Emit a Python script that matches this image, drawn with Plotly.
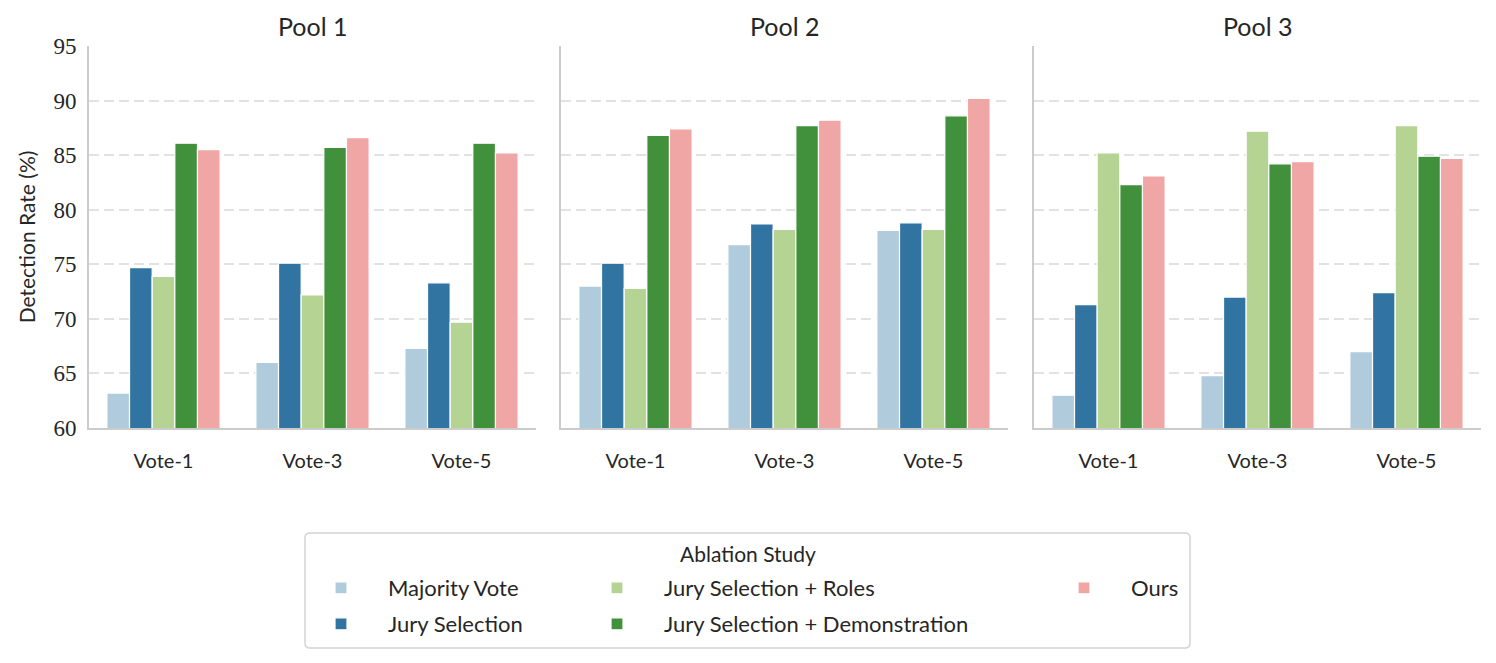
import plotly.graph_objects as go

# page body has an 8px margin; figure is sized/positioned to compensate
OFF = 8
FW, FH = 1488, 655


def px(x):
    return (x - OFF) / FW


def py(y):
    return 1 - (y - OFF) / FH


pools = ["Pool 1", "Pool 2", "Pool 3"]
votes = ["Vote-1", "Vote-3", "Vote-5"]
methods = ["Majority Vote", "Jury Selection", "Jury Selection + Roles",
           "Jury Selection + Demonstration", "Ours"]
colors = ["#afcbdc", "#3274a1", "#b5d493", "#41913c", "#f0a6a5"]

# values per series: [pool][vote]
majority_vote = [[63.2, 66.0, 67.3], [73.0, 76.8, 78.1], [63.0, 64.8, 67.0]]
jury_selection = [[74.7, 75.1, 73.3], [75.1, 78.7, 78.8], [71.3, 72.0, 72.4]]
jury_roles = [[73.9, 72.2, 69.7], [72.8, 78.2, 78.2], [85.2, 87.2, 87.7]]
jury_demo = [[86.1, 85.7, 86.1], [86.8, 87.7, 88.6], [82.3, 84.2, 84.9]]
ours = [[85.5, 86.6, 85.2], [87.4, 88.2, 90.2], [83.1, 84.4, 84.7]]
series = [majority_vote, jury_selection, jury_roles, jury_demo, ours]

y_ticks = [60, 65, 70, 75, 80, 85, 90, 95]

SANS = "Lato"
SERIF = "Liberation Serif"
TXT = "#262626"

fig = go.Figure()

x_domains = [(px(89), px(536)), (px(561), px(1008)), (px(1034), px(1481))]
y_domain = (py(428), py(46))

# legend placement: swatch centre columns / row centres (pixels)
ITEMW = 84
leg_cx = [341, 341, 617, 617, 1084]
leg_cy = [588, 624, 588, 624, 588]
legend_keys = ["legend", "legend2", "legend3", "legend4", "legend5"]

for p in range(3):
    xa = "x" if p == 0 else f"x{p + 1}"
    ya = "y" if p == 0 else f"y{p + 1}"
    for m in range(5):
        fig.add_trace(go.Bar(
            x=votes, y=series[m][p], name=methods[m],
            marker=dict(color=colors[m], line=dict(color="white", width=1.2)),
            xaxis=xa, yaxis=ya, showlegend=(p == 0),
            legend=legend_keys[m], offsetgroup=str(m),
            hovertemplate=methods[m] + ": %{y}<extra>" + pools[p] + "</extra>",
        ))

layout = dict(
    width=FW, height=FH,
    margin=dict(l=0, r=0, t=0, b=0),
    plot_bgcolor="white", paper_bgcolor="white",
    barmode="group", bargap=0.24, bargroupgap=0.0,
    font=dict(family=SANS, color=TXT),
)

for p in range(3):
    sx = "" if p == 0 else str(p + 1)
    layout["xaxis" + sx] = dict(
        domain=list(x_domains[p]), anchor="y" + sx,
        range=[-0.5, 2.5], showline=True, linecolor="#cccccc", linewidth=2,
        showgrid=False, ticks="", tickfont=dict(family=SANS, size=20, color=TXT),
        ticklabelstandoff=14, automargin=False, fixedrange=True,
    )
    layout["yaxis" + sx] = dict(
        domain=list(y_domain), anchor="x" + sx,
        range=[60, 95], tickvals=y_ticks, showticklabels=(p == 0),
        showline=True, linecolor="#cccccc", linewidth=2,
        showgrid=True, gridcolor="#e2e2e2", griddash="10px,5px", gridwidth=1.5,
        zeroline=False, ticks="", tickfont=dict(family=SERIF, size=23, color=TXT),
        ticklabelstandoff=6, automargin=False, fixedrange=True,
        title=dict(text="Detection Rate (%)" if p == 0 else "",
                   font=dict(family=SANS, size=21, color=TXT), standoff=12),
    )

for i, key in enumerate(legend_keys):
    layout[key] = dict(
        x=px(leg_cx[i] - ITEMW / 2 - 5), y=py(leg_cy[i]),
        xanchor="left", yanchor="middle",
        bgcolor="rgba(0,0,0,0)", borderwidth=0,
        font=dict(family=SANS, size=22, color=TXT), itemwidth=ITEMW,
        orientation="v",
    )

annotations = []
for p in range(3):
    annotations.append(dict(
        text=pools[p], x=(x_domains[p][0] + x_domains[p][1]) / 2, y=py(26),
        xref="paper", yref="paper", showarrow=False,
        font=dict(family=SANS, size=25, color=TXT), xanchor="center", yanchor="middle",
    ))
annotations.append(dict(
    text="Ablation Study", x=px((305 + 1190) / 2), y=py(553),
    xref="paper", yref="paper", showarrow=False,
    font=dict(family=SANS, size=21, color=TXT), xanchor="center", yanchor="middle",
))
layout["annotations"] = annotations

# rounded legend frame
x0, x1, y0, y1 = px(305), px(1190), py(648), py(533)
rx, ry = 5 / FW, 5 / FH
path = (f"M{x0 + rx},{y0} L{x1 - rx},{y0} Q{x1},{y0} {x1},{y0 + ry} "
        f"L{x1},{y1 - ry} Q{x1},{y1} {x1 - rx},{y1} L{x0 + rx},{y1} "
        f"Q{x0},{y1} {x0},{y1 - ry} L{x0},{y0 + ry} Q{x0},{y0} {x0 + rx},{y0} Z")
layout["shapes"] = [dict(type="path", path=path, xref="paper", yref="paper",
                         line=dict(color="#d4d4d4", width=1.5), fillcolor="rgba(0,0,0,0)")]

fig.update_layout(**layout)
fig.write_html("out.html")
